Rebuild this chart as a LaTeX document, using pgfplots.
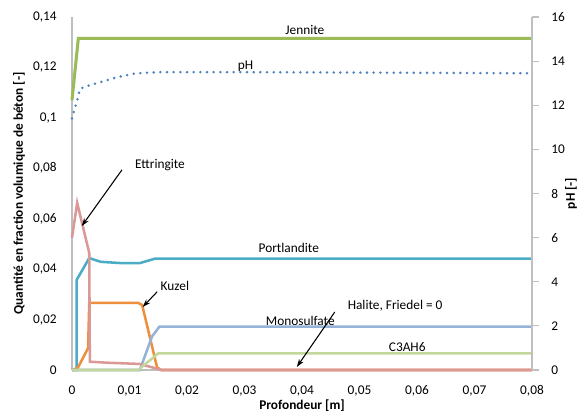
\documentclass[border=0pt]{standalone}
\usepackage{fontspec}
\setmainfont{Carlito}
\usepackage{pgfplots}
\pgfplotsset{compat=1.18}
\usetikzlibrary{arrows.meta}

\definecolor{axgray}{HTML}{BFBFBF}
\definecolor{jennite}{HTML}{9BBB59}
\definecolor{phblue}{HTML}{4F81BD}
\definecolor{ettr}{HTML}{DA9896}
\definecolor{portl}{HTML}{4BACC6}
\definecolor{kuzel}{HTML}{EE8F3E}
\definecolor{monos}{HTML}{95B3D7}
\definecolor{c3ah}{HTML}{C3D69B}

\pgfplotsset{
  excel/.style={
    scale only axis, width=345pt, height=264.75pt,
    xmin=0, xmax=0.08,
    scaled x ticks=false, scaled y ticks=false,
    /pgf/number format/assume math mode=true,
    axis line style={draw=axgray, line width=0.8pt, -},
    label style={font=\bfseries},
    clip=false,
  }
}

\begin{document}
\begin{tikzpicture}[font=\fontsize{10}{12}\selectfont]
  \begin{axis}[excel,
      ymin=0, ymax=0.14,
      axis x line*=bottom, axis y line*=left,
      xtick={0,0.01,0.02,0.03,0.04,0.05,0.06,0.07,0.08},
      xticklabels={0,{0,01},{0,02},{0,03},{0,04},{0,05},{0,06},{0,07},{0,08}},
      ytick={0,0.02,0.04,0.06,0.08,0.1,0.12,0.14},
      yticklabels={0,{0,02},{0,04},{0,06},{0,08},{0,1},{0,12},{0,14}},
      tick style={draw=none}, major tick length=0pt,
      yticklabel style={xshift=-8pt},
      xticklabel style={yshift=-8pt},
      xlabel={Profondeur [m]},
      ylabel={Quantité en fraction volumique de béton [-]},
      xlabel style={at={(axis description cs:0.5,0)}, anchor=center, yshift=-27pt},
      ylabel style={at={(axis description cs:-0.1152,0.5)}, anchor=center},
    ]
    \coordinate (sw) at (rel axis cs:0,0);
    \coordinate (ne) at (rel axis cs:1,1);

    % Jennite
    \addplot[jennite, line width=2.3pt] coordinates {
      (0,0.107) (0.0011,0.1315) (0.08,0.1315)
    };
    % Portlandite
    \addplot[portl, line width=1.9pt] coordinates {
      (0,0) (0.0008,0) (0.0008,0.0357) (0.003,0.0444) (0.005,0.0429)
      (0.0085,0.0424) (0.0118,0.0424) (0.0145,0.0442) (0.08,0.0442)
    };
    % Kuzel
    \addplot[kuzel, line width=1.9pt] coordinates {
      (0,0) (0.001,0.0008) (0.0028,0.0087) (0.003,0.0266) (0.0115,0.0266)
      (0.0122,0.0258) (0.0148,0.001) (0.0155,0) (0.08,0)
    };
    % Monosulfate
    \addplot[monos, line width=1.9pt] coordinates {
      (0,0) (0.0118,0) (0.0139,0.0132) (0.0152,0.0172) (0.08,0.0172)
    };
    % Ettringite
    \addplot[ettr, line width=1.9pt] coordinates {
      (0,0.0524) (0.0009,0.0663) (0.003,0.0464) (0.0031,0.0033)
      (0.006,0.0029) (0.0118,0.0024) (0.0148,0.0005) (0.0155,0) (0.08,0)
    };
    % C3AH6
    \addplot[c3ah, line width=1.9pt] coordinates {
      (0,0) (0.0115,0) (0.015,0.0066) (0.08,0.0066)
    };

    \node at (axis cs:0.0405,0.1349) {Jennite};
    \node at (axis cs:0.0302,0.1206) {pH};
    \node at (axis cs:0.0153,0.0813) {Ettringite};
    \draw[-{Stealth[length=6pt,width=4pt]}, line width=0.8pt]
      (axis cs:0.0087,0.0794) -- (axis cs:0.0017,0.0571);
    \node at (axis cs:0.0377,0.0484) {Portlandite};
    \node at (axis cs:0.0179,0.0333) {Kuzel};
    \draw[-{Stealth[length=6pt,width=4pt]}, line width=0.8pt]
      (axis cs:0.0148,0.031) -- (axis cs:0.0123,0.025);
    \node at (axis cs:0.0397,0.0194) {Monosulfate};
    \node at (axis cs:0.0562,0.0254) {Halite, Friedel = 0};
    \draw[-{Stealth[length=6pt,width=4pt]}, line width=0.8pt]
      (axis cs:0.0457,0.023) -- (axis cs:0.0391,0.0012);
    \node at (axis cs:0.0583,0.0091) {C3AH6};
  \end{axis}

  \begin{axis}[excel,
      ymin=0, ymax=16,
      axis x line=none, axis y line*=right,
      xtick=\empty,
      ytick={0,2,4,6,8,10,12,14,16},
      tick align=outside, major tick length=5pt,
      ytick style={draw=axgray, line width=0.8pt},
      yticklabel style={xshift=6pt},
      ylabel={pH [-]},
      ylabel style={at={(axis description cs:1.0848,0.5)}, anchor=center},
    ]
    \addplot[phblue, line width=2.1pt, line cap=round, dash pattern=on 0pt off 5pt] coordinates {
      (0,11.4) (0.0003,11.7) (0.0009,12.2) (0.0014,12.75) (0.003,12.9)
      (0.005,13.05) (0.008,13.28) (0.011,13.44) (0.015,13.5) (0.03,13.5)
      (0.08,13.45)
    };
  \end{axis}

  \pgfresetboundingbox
  \path ([xshift=-54pt,yshift=-37.5pt]sw) rectangle ([xshift=39pt,yshift=12.75pt]ne);
\end{tikzpicture}
\end{document}
